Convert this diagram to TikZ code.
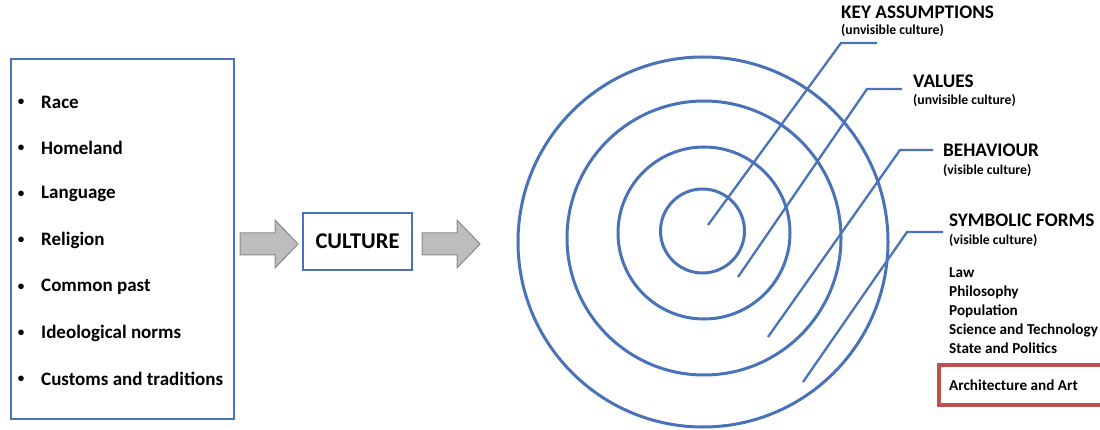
\documentclass[tikz,border=0pt]{standalone}
\usepackage{fontspec}
\setmainfont{Carlito}
\definecolor{cblue}{HTML}{4A72B8}
\definecolor{cred}{HTML}{C0504D}
\definecolor{agray}{HTML}{BDBDBD}
\definecolor{aedge}{HTML}{8A8A8A}
\tikzset{
  lbl/.style={anchor=west,inner sep=0pt,font=\bfseries\fontsize{19.2}{22}\selectfont},
  sub/.style={anchor=west,inner sep=0pt,font=\bfseries\fontsize{13.7}{16}\selectfont},
  item/.style={anchor=west,inner sep=0pt,font=\bfseries\fontsize{19}{22}\selectfont},
  bul/.style={anchor=center,inner sep=0pt,font=\bfseries\fontsize{13}{16}\selectfont},
  sitem/.style={anchor=west,inner sep=0pt,font=\bfseries\fontsize{15.2}{18}\selectfont},
  ring/.style={draw=cblue,line width=3pt},
  leader/.style={draw=cblue,line width=2.3pt},
  blockarrow/.style={fill=agray,draw=aedge,line width=1pt,line join=miter},
}
\begin{document}
\begin{tikzpicture}[x=1pt,y=-1pt]
\useasboundingbox (0,0) rectangle (1100,430);
% left box
\node[draw=cblue,line width=2.4pt,minimum width=223pt,minimum height=360pt,anchor=north west,inner sep=0pt] (factors) at (10,58) {};
\foreach \t/\yy [count=\i] in {Race/102,Homeland/148,Language/194,Religion/240,Common past/287,Ideological norms/333,Customs and traditions/379}{
  \node[bul] (bul\i) at (21,\yy) {•};
  \node[item] (it\i) at (41,\yy) {\t};
}
% culture box
\node[draw=cblue,line width=2.4pt,minimum width=109pt,minimum height=57pt,inner sep=0pt,font=\bfseries\fontsize{22.5}{26}\selectfont] (culture) at (357.5,241.5) {CULTURE};
% block arrows
\draw[blockarrow] (240,233) -- (275,233) -- (275,220) -- (298,244) -- (275,268) -- (275,255) -- (240,255) -- cycle;
\draw[blockarrow] (422,233) -- (457,233) -- (457,220) -- (480,244) -- (457,268) -- (457,255) -- (422,255) -- cycle;
% rings
\draw[ring] (702.5,231) circle[radius=42];
\draw[ring] (704,233) circle[radius=86];
\draw[ring] (704,238) circle[radius=137];
\draw[ring] (703,242) circle[radius=185];
% leaders
\coordinate (s1) at (708,225); \coordinate (b1) at (841,43); \coordinate (e1) at (877,43);
\coordinate (s2) at (738,277); \coordinate (b2) at (867,89); \coordinate (e2) at (902,89);
\coordinate (s3) at (768,337); \coordinate (b3) at (900,150); \coordinate (e3) at (933,150);
\coordinate (s4) at (803,382); \coordinate (b4) at (907,232); \coordinate (e4) at (943,232);
\draw[leader] (s1) -- (b1) -- (e1);
\draw[leader] (s2) -- (b2) -- (e2);
\draw[leader] (s3) -- (b3) -- (e3);
\draw[leader] (s4) -- (b4) -- (e4);
% labels
\node[lbl] (ka) at (841,12) {KEY ASSUMPTIONS};
\node[sub] (kas) at (841,30) {(unvisible culture)};
\node[lbl] (va) at (913,81) {VALUES};
\node[sub] (vas) at (913,100) {(unvisible culture)};
\node[lbl] (be) at (943,150) {BEHAVIOUR};
\node[sub] (bes) at (943,170) {(visible culture)};
\node[lbl] (sy) at (949,220) {SYMBOLIC FORMS};
\node[sub] (sys) at (949,240) {(visible culture)};
\foreach \t/\yy [count=\i] in {Law/273,Philosophy/292,Population/311,Science and Technology/330,State and Politics/348}{
  \node[sitem] (sf\i) at (949,\yy) {\t};
}
\draw[draw=cred,line width=3.2pt] (939,365) -- (1104,365) (939,405) -- (1104,405) (939,363.4) -- (939,406.6);
\node[sitem] (arch) at (949,385) {Architecture and Art};
\end{tikzpicture}
\end{document}
